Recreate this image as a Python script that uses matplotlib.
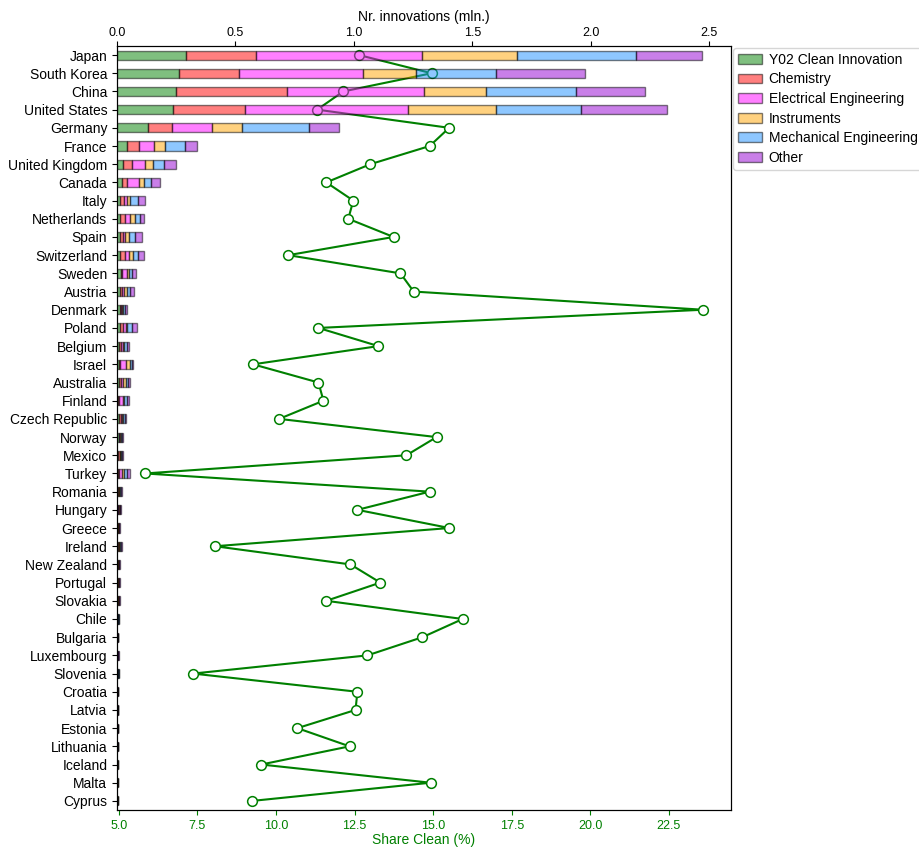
import numpy as np
import matplotlib
matplotlib.use("Agg")
import matplotlib.pyplot as plt

plt.rcParams['font.family'] = ['Liberation Sans', 'DejaVu Sans']
plt.rcParams['font.size'] = 10

countries = ["Japan", "South Korea", "China", "United States", "Germany", "France",
             "United Kingdom", "Canada", "Italy", "Netherlands", "Spain", "Switzerland",
             "Sweden", "Austria", "Denmark", "Poland", "Belgium", "Israel", "Australia",
             "Finland", "Czech Republic", "Norway", "Mexico", "Turkey", "Romania",
             "Hungary", "Greece", "Ireland", "New Zealand", "Portugal", "Slovakia",
             "Chile", "Bulgaria", "Luxembourg", "Slovenia", "Croatia", "Latvia",
             "Estonia", "Lithuania", "Iceland", "Malta", "Cyprus"]

# share of clean innovation (%), bottom axis
share_clean = [12.64, 14.95, 12.14, 11.31, 15.51, 14.89, 13.00, 11.60, 12.46, 12.30,
               13.74, 10.39, 13.96, 14.38, 23.59, 11.35, 13.26, 9.27, 11.35, 11.51,
               10.10, 15.11, 14.15, 5.83, 14.89, 12.59, 15.52, 8.06, 12.37, 13.32,
               11.60, 15.94, 14.66, 12.91, 7.36, 12.59, 12.53, 10.68, 12.34, 9.53,
               14.92, 9.24]

# number of innovations (mln.), top axis
y02 = [0.290, 0.262, 0.247, 0.237, 0.131, 0.044, 0.027, 0.021, 0.014, 0.014,
       0.011, 0.014, 0.015, 0.014, 0.014, 0.011, 0.007, 0.007, 0.008, 0.006,
       0.010, 0.007, 0.005, 0.006, 0.004, 0.003, 0.002, 0.003, 0.002, 0.002,
       0.002, 0.002, 0.001, 0.001, 0.002, 0.001, 0.001, 0.001, 0.001, 0.001,
       0.0005, 0.001]
chemistry = [0.296, 0.254, 0.471, 0.303, 0.103, 0.047, 0.036, 0.021, 0.014, 0.021,
             0.013, 0.018, 0.008, 0.008, 0.004, 0.014, 0.011, 0.004, 0.007, 0.004,
             0.008, 0.003, 0.006, 0.004, 0.003, 0.002, 0.002, 0.004, 0.002, 0.002,
             0.001, 0.002, 0.001, 0.001, 0.002, 0.001, 0.001, 0.001, 0.001, 0.0005,
             0.0005, 0.0005]
electrical = [0.700, 0.524, 0.579, 0.688, 0.165, 0.066, 0.056, 0.049, 0.016, 0.018,
              0.011, 0.017, 0.020, 0.008, 0.004, 0.011, 0.006, 0.028, 0.011, 0.016,
              0.004, 0.004, 0.003, 0.012, 0.003, 0.003, 0.002, 0.003, 0.002, 0.002,
              0.002, 0.001, 0.001, 0.001, 0.001, 0.001, 0.001, 0.001, 0.001, 0.0005,
              0.001, 0.0005]
instruments = [0.402, 0.220, 0.262, 0.370, 0.127, 0.044, 0.034, 0.024, 0.012, 0.021,
               0.017, 0.018, 0.008, 0.012, 0.004, 0.008, 0.007, 0.016, 0.010, 0.004,
               0.004, 0.003, 0.003, 0.006, 0.003, 0.003, 0.002, 0.003, 0.002, 0.002,
               0.002, 0.001, 0.001, 0.001, 0.001, 0.001, 0.001, 0.001, 0.001, 0.0005,
               0.0005, 0.0005]
mechanical = [0.502, 0.341, 0.378, 0.359, 0.286, 0.085, 0.047, 0.030, 0.031, 0.021,
              0.024, 0.020, 0.014, 0.014, 0.008, 0.020, 0.010, 0.007, 0.010, 0.012,
              0.006, 0.004, 0.004, 0.014, 0.003, 0.003, 0.002, 0.003, 0.002, 0.002,
              0.003, 0.001, 0.001, 0.002, 0.002, 0.001, 0.001, 0.001, 0.001, 0.001,
              0.0005, 0.001]
other = [0.278, 0.372, 0.293, 0.366, 0.124, 0.052, 0.049, 0.038, 0.031, 0.020,
         0.031, 0.025, 0.016, 0.014, 0.008, 0.020, 0.010, 0.007, 0.010, 0.010,
         0.005, 0.004, 0.004, 0.014, 0.004, 0.002, 0.001, 0.004, 0.002, 0.001,
         0.001, 0.001, 0.001, 0.001, 0.001, 0.001, 0.001, 0.001, 0.001, 0.0005,
         0.001, 0.0005]

fields = ["Y02 Clean Innovation", "Chemistry", "Electrical Engineering",
          "Instruments", "Mechanical Engineering", "Other"]
colors = ["green", "red", "magenta", "orange", "dodgerblue", "darkviolet"]

y = np.arange(len(countries))

fig, ax = plt.subplots(figsize=(9.2, 8.48), dpi=100)
fig.subplots_adjust(left=0.1272, right=0.7946, bottom=0.0448, top=0.9458)

# line: share clean, bottom axis
ax.plot(share_clean, y, color="green", marker="o", markersize=7,
        markerfacecolor="white", markeredgewidth=1.1, linewidth=1.5)
ax.set_xlabel("Share Clean (%)", color="green", fontsize=10, labelpad=1)
ax.tick_params(axis="x", colors="green", labelsize=9)
ax.set_yticks(y)
ax.set_yticklabels(countries, fontsize=10)

# stacked bars: innovations, top axis
ax2 = ax.twiny()
left = np.zeros(len(countries))
for vals, name, c in zip([y02, chemistry, electrical, instruments, mechanical, other],
                         fields, colors):
    vals = np.array(vals)
    ax2.barh(y, vals, left=left, height=0.5, color=c, alpha=0.5,
             edgecolor="black", linewidth=1, label=name)
    left += vals
ax2.set_xlabel("Nr. innovations (mln.)", fontsize=10)
ax2.tick_params(axis="x", labelsize=9, pad=1.5)
ax2.legend(loc="upper left", bbox_to_anchor=(1.0, 1.0), borderaxespad=0.15,
           fontsize=10, labelspacing=0.4, handlelength=1.7, handletextpad=0.5,
           borderpad=0.35)

ax.set_ylim(len(countries) - 0.5, -0.5)

plt.savefig("out.png", dpi=100)
